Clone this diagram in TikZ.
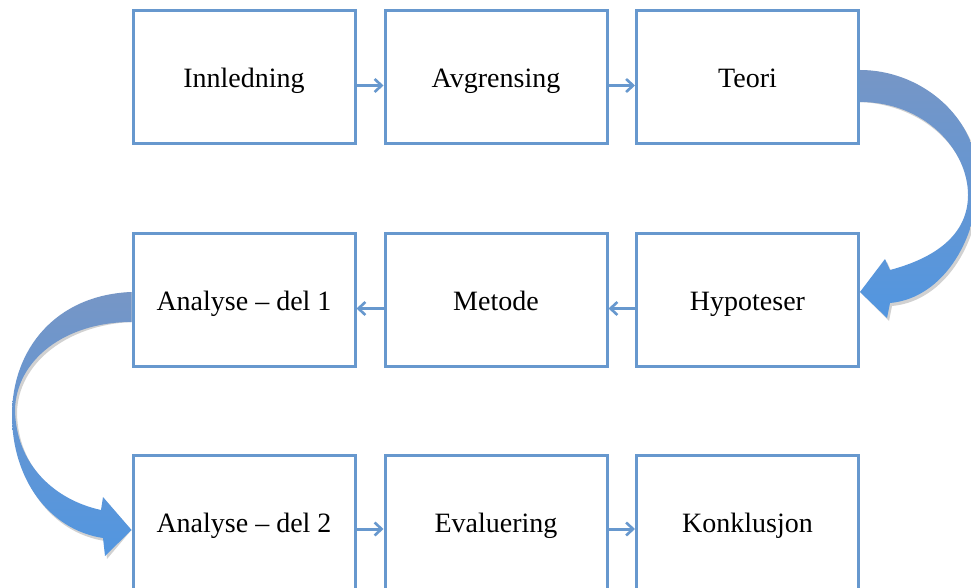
\documentclass[tikz,border=0pt]{standalone}
\usepackage{fontspec}
\setmainfont{Liberation Serif}
\usetikzlibrary{arrows.meta,calc}
\definecolor{boxblue}{RGB}{103,152,206}
\definecolor{arrtop}{RGB}{118,150,198}
\definecolor{arrbot}{RGB}{82,150,224}
\tikzset{
  stepbox/.style={draw=boxblue, line width=3pt, fill=white, minimum width=222pt, minimum height=133pt, inner sep=0pt,
    font=\fontsize{28}{32}\selectfont, text=black, text height=25pt, text depth=4pt},
  smallarrow/.style={draw=boxblue, line width=3pt, -{Straight Barb[length=7pt,width=13pt,line width=2.6pt]}},
  bigarrow/.style={top color=arrtop, bottom color=arrbot, draw=none},
  bigshadow/.style={fill=black, opacity=0.18, draw=none}
}
\begin{document}
\begin{tikzpicture}[x=1pt,y=-1pt]
\clip (0,0) rectangle (971,588);
\fill[white] (0,0) rectangle (971,588);
% row 1
\node[stepbox] (innl) at (244,77.5) {Innledning};
\node[stepbox] (avgr) at (496,77.5) {Avgrensing};
\node[stepbox] (teori) at (747.5,77.5) {Teori};
% row 2
\node[stepbox] (anal1) at (244,299.5) {Analyse – del 1};
\node[stepbox] (meto) at (496,299.5) {Metode};
\node[stepbox] (hypo) at (747.5,299.5) {Hypoteser};
% row 3
\node[stepbox, minimum height=140pt, text height=18pt, text depth=4pt] (anal2) at (244,525) {Analyse – del 2};
\node[stepbox, minimum height=140pt, text height=18pt, text depth=4pt] (eval) at (496,525) {Evaluering};
\node[stepbox, minimum height=140pt, text height=18pt, text depth=4pt] (konk) at (747.5,525) {Konklusjon};
% small arrows
\draw[smallarrow] ([yshift=-8pt]innl.east) -- ([yshift=-8pt]avgr.west);
\draw[smallarrow] ([yshift=-8pt]avgr.east) -- ([yshift=-8pt]teori.west);
\draw[smallarrow] ([yshift=-9pt]hypo.west) -- ([yshift=-9pt]meto.east);
\draw[smallarrow] ([yshift=-9pt]meto.west) -- ([yshift=-9pt]anal1.east);
\draw[smallarrow] ([yshift=-4pt]anal2.east) -- ([yshift=-4pt]eval.west);
\draw[smallarrow] ([yshift=-4pt]eval.east) -- ([yshift=-4pt]konk.west);
% big curved arrow: Teori -> Hypoteser
\def\rightcurve{([yshift=7.5pt]teori.east)
  .. controls (920,70) and (975,115) .. (978,175)
  .. controls (980,235) and (945,298) .. (890,303)
  -- (887,318) -- ([yshift=7.5pt]hypo.east) -- (885,259) -- (890,270)
  .. controls (935,258) and (968,235) .. (968,195)
  .. controls (968,150) and (925,102) .. ([yshift=-24.5pt]teori.east) -- cycle}
% big curved arrow: Analyse del 1 -> Analyse del 2
\def\leftcurve{([yshift=7.5pt]anal1.west)
  .. controls (55,295) and (12,350) .. (12,415)
  .. controls (12,480) and (50,530) .. (103,538)
  -- (105,556) -- ([yshift=-5pt]anal2.west) -- (103,497) -- (101,510)
  .. controls (55,500) and (16,465) .. (15,410)
  .. controls (16,360) and (65,322) .. ([yshift=-22.5pt]anal1.west) -- cycle}
\begin{scope}[shift={(2,3)}]
  \path[bigshadow] \rightcurve;
  \path[bigshadow] \leftcurve;
\end{scope}
\path[bigarrow] \rightcurve;
\path[bigarrow] \leftcurve;
\end{tikzpicture}
\end{document}
